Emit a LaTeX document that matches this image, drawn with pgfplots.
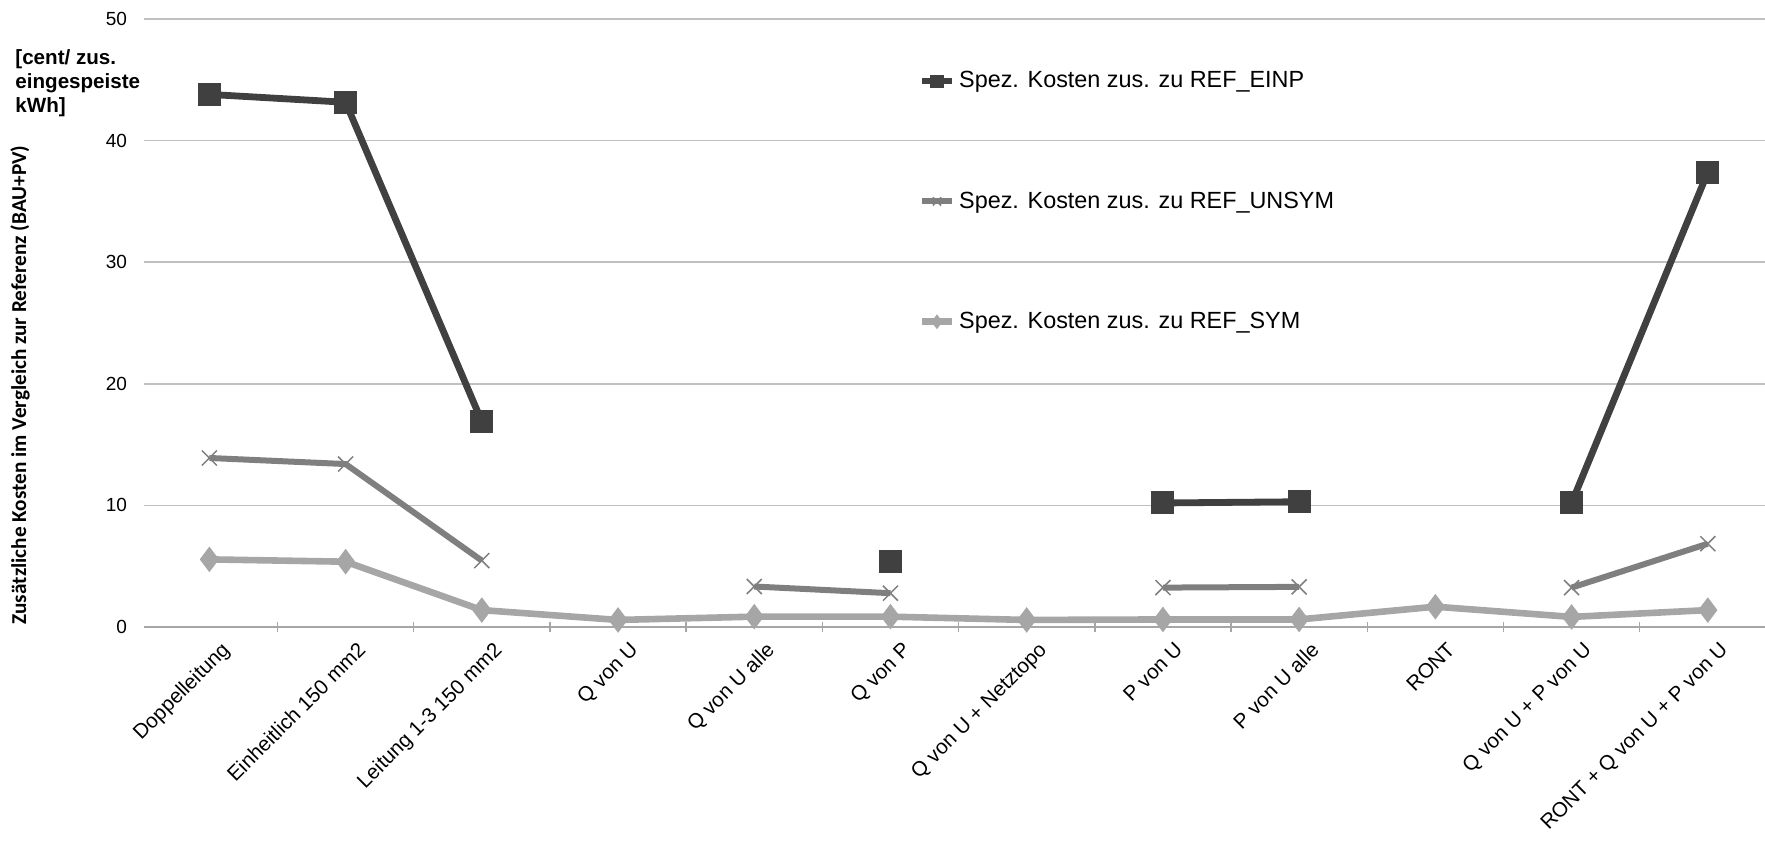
\documentclass[border=0pt]{standalone}
\usepackage{pgfplots}
\pgfplotsset{compat=1.18}
\usepackage{pgfplotstable}
\usepackage{fontspec}
\setmainfont{Liberation Sans}
\newfontfamily\calibri{Carlito}

\definecolor{einp}{HTML}{404040}
\definecolor{unsym}{HTML}{7F7F7F}
\definecolor{sym}{HTML}{A6A6A6}
\definecolor{gridgray}{HTML}{C0C0C0}
\definecolor{axisgray}{HTML}{A6A6A6}

% Spezifische Zusatzkosten je Variante (nan = kein Wert)
\pgfplotstableread{
idx EINP   UNSYM  SYM
0   43.8   13.9   5.56
1   43.15  13.4   5.37
2   16.9   5.46   1.39
3   nan    nan    0.58
4   nan    3.33   0.85
5   5.37   2.78   0.85
6   nan    nan    0.58
7   10.2   3.24   0.62
8   10.3   3.3    0.62
9   nan    nan    1.67
10  10.2   3.24   0.83
11  37.4   6.85   1.39
}\kosten

\begin{document}
\begin{tikzpicture}
\begin{axis}[
  scale only axis,
  width=810.5pt, height=304pt,
  xmin=-0.48, xmax=11.42,
  ymin=0, ymax=50,
  ytick={0,10,...,50},
  xtick={0,...,11},
  xticklabels={Doppelleitung, Einheitlich 150 mm2, Leitung 1-3 150 mm2, Q von U, Q von U alle, Q von P, Q von U + Netztopo, P von U, P von U alle, RONT, Q von U + P von U, RONT + Q von U + P von U},
  minor xtick={-0.5,0.5,...,10.5},
  major tick length=0pt,
  minor tick length=5pt,
  minor tick style={axisgray, line width=0.75pt},
  axis lines=left,
  axis line style={-},
  x axis line style={axisgray, line width=0.9pt},
  y axis line style={draw=none},
  ymajorgrids,
  major grid style={gridgray, line width=0.8pt},
  /pgf/number format/assume math mode=true,
  yticklabel style={font=\fontsize{9.5}{11}\selectfont, xshift=-5pt},
  xticklabel style={font=\fontsize{10.3}{12}\selectfont, rotate=45, anchor=north east, inner sep=1pt, yshift=-7.5pt},
  unbounded coords=jump,
  ylabel={\calibri\bfseries Zusätzliche Kosten im Vergleich zur Referenz (BAU+PV)},
  ylabel style={font=\fontsize{10.6}{12}\selectfont, at={(axis description cs:-0.0765,0.398)}, anchor=center},
  legend cell align=left,
  legend style={
    at={(axis description cs:0.474,0.70)}, anchor=west,
    draw=none, fill=none,
    font=\fontsize{11.7}{14}\selectfont,
    row sep=46.5pt,
  },
  legend image code/.code={%
    \draw[#1, every mark/.append style={scale=0.55}, mark repeat=2, mark phase=2]
      plot coordinates {(0cm,0cm) (0.26cm,0cm) (0.52cm,0cm)};},
]
\addplot[einp, line width=3.4pt, mark=square*, mark size=5.5pt,
  mark options={solid, line width=0.5pt, fill=einp, draw=einp}]
  table[x=idx, y=EINP] {\kosten};
\addlegendentry{Spez. Kosten zus. zu REF\_EINP}
\addplot[unsym, line width=3pt, mark=x, mark size=5.3pt,
  mark options={solid, line width=0.75pt, draw=unsym}]
  table[x=idx, y=UNSYM] {\kosten};
\addlegendentry{Spez. Kosten zus. zu REF\_UNSYM}
\addplot[sym, line width=3.3pt, mark=diamond*, mark size=6pt,
  mark options={solid, line width=0.5pt, fill=sym, draw=sym}]
  table[x=idx, y=SYM] {\kosten};
\addlegendentry{Spez. Kosten zus. zu REF\_SYM}
\end{axis}
\node[anchor=north west, align=left, inner sep=0pt,
  font=\fontsize{10.3}{12}\selectfont\bfseries]
  at (-64.5pt,288.7pt) {[cent/ zus.\\eingespeiste\\kWh]};
\pgfresetboundingbox
\useasboundingbox (-72pt,-111.5pt) rectangle (810.5pt,313.5pt);
\end{tikzpicture}
\end{document}
